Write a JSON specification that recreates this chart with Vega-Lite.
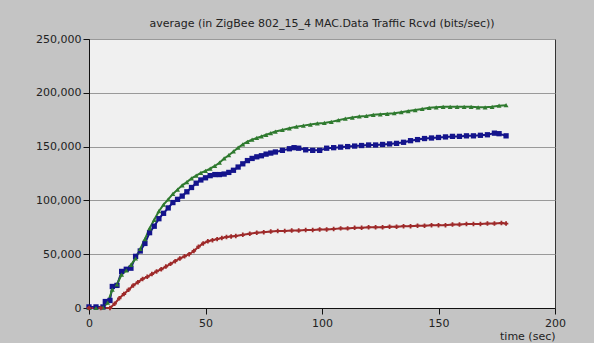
{
  "$schema": "https://vega.github.io/schema/vega-lite/v6.json",
  "autosize": "none",
  "width": 466,
  "height": 269,
  "padding": {"left": 89, "top": 39, "right": 39, "bottom": 35},
  "background": "#c4c4c4",
  "title": {"text": "average (in ZigBee 802_15_4 MAC.Data Traffic Rcvd (bits/sec))", "anchor": "middle", "offset": 4, "fontSize": 11, "font": "DejaVu Sans", "fontWeight": "normal", "color": "#222222"},
  "config": {
    "view": {"fill": "#f0f0f0", "stroke": "#333333", "strokeWidth": 1},
    "axis": {"labelFont": "DejaVu Sans", "labelFontSize": 11, "labelColor": "#222222", "domainColor": "#111111", "tickColor": "#111111", "tickSize": 6, "titleFont": "DejaVu Sans", "titleFontWeight": "normal", "titleColor": "#222222"}
  },
  "datasets": {
    "d": [
      {"s":"B","t":0,"v":1000},{"s":"B","t":3,"v":1000},{"s":"B","t":6,"v":1000},{"s":"B","t":7,"v":6000},{"s":"B","t":9,"v":7000},{"s":"B","t":10,"v":20000},{"s":"B","t":12,"v":21000},{"s":"B","t":14,"v":34000},{"s":"B","t":16,"v":36000},{"s":"B","t":18,"v":37000},{"s":"B","t":20,"v":48000},{"s":"B","t":22,"v":53000},{"s":"B","t":24,"v":60000},{"s":"B","t":26,"v":70000},{"s":"B","t":28,"v":76000},{"s":"B","t":30,"v":83000},{"s":"B","t":32,"v":88000},{"s":"B","t":34,"v":93000},{"s":"B","t":36,"v":98000},{"s":"B","t":38,"v":101000},{"s":"B","t":40,"v":104000},{"s":"B","t":42,"v":108000},{"s":"B","t":44,"v":112000},{"s":"B","t":46,"v":116000},{"s":"B","t":48,"v":119000},{"s":"B","t":50,"v":121000},{"s":"B","t":52,"v":123000},{"s":"B","t":54,"v":124000},{"s":"B","t":56,"v":124000},{"s":"B","t":58,"v":124500},{"s":"B","t":60,"v":126000},{"s":"B","t":62,"v":128000},{"s":"B","t":64,"v":131000},{"s":"B","t":66,"v":134000},{"s":"B","t":68,"v":137000},{"s":"B","t":70,"v":139000},{"s":"B","t":72,"v":140500},{"s":"B","t":74,"v":141500},{"s":"B","t":76,"v":143000},{"s":"B","t":78,"v":144000},{"s":"B","t":80,"v":145000},{"s":"B","t":83,"v":146500},{"s":"B","t":86,"v":148000},{"s":"B","t":88,"v":149000},{"s":"B","t":90,"v":148500},{"s":"B","t":93,"v":147000},{"s":"B","t":96,"v":146500},{"s":"B","t":99,"v":146500},{"s":"B","t":102,"v":148500},{"s":"B","t":105,"v":149000},{"s":"B","t":108,"v":149500},{"s":"B","t":111,"v":150000},{"s":"B","t":114,"v":150500},{"s":"B","t":117,"v":151000},{"s":"B","t":120,"v":151500},{"s":"B","t":123,"v":151500},{"s":"B","t":126,"v":152000},{"s":"B","t":129,"v":152500},{"s":"B","t":132,"v":153000},{"s":"B","t":135,"v":154000},{"s":"B","t":138,"v":155500},{"s":"B","t":141,"v":156500},{"s":"B","t":144,"v":157500},{"s":"B","t":147,"v":158000},{"s":"B","t":150,"v":158500},{"s":"B","t":153,"v":159000},{"s":"B","t":156,"v":159500},{"s":"B","t":159,"v":159500},{"s":"B","t":162,"v":160000},{"s":"B","t":165,"v":160000},{"s":"B","t":168,"v":160500},{"s":"B","t":171,"v":161000},{"s":"B","t":174,"v":162500},{"s":"B","t":176,"v":162000},{"s":"B","t":179,"v":160000},
      {"s":"G","t":0,"v":0},{"s":"G","t":3,"v":0},{"s":"G","t":6,"v":500},{"s":"G","t":8,"v":5000},{"s":"G","t":10,"v":17000},{"s":"G","t":12,"v":22000},{"s":"G","t":14,"v":31000},{"s":"G","t":16,"v":35000},{"s":"G","t":18,"v":40000},{"s":"G","t":20,"v":46000},{"s":"G","t":22,"v":55000},{"s":"G","t":24,"v":64000},{"s":"G","t":26,"v":74000},{"s":"G","t":28,"v":82000},{"s":"G","t":30,"v":90000},{"s":"G","t":32,"v":96000},{"s":"G","t":34,"v":101000},{"s":"G","t":36,"v":106000},{"s":"G","t":38,"v":110000},{"s":"G","t":40,"v":114000},{"s":"G","t":42,"v":117000},{"s":"G","t":44,"v":120500},{"s":"G","t":46,"v":123000},{"s":"G","t":48,"v":125500},{"s":"G","t":50,"v":127500},{"s":"G","t":52,"v":129500},{"s":"G","t":54,"v":132000},{"s":"G","t":56,"v":135000},{"s":"G","t":58,"v":139000},{"s":"G","t":60,"v":142000},{"s":"G","t":62,"v":145500},{"s":"G","t":64,"v":149000},{"s":"G","t":66,"v":152000},{"s":"G","t":68,"v":154500},{"s":"G","t":70,"v":156500},{"s":"G","t":72,"v":158000},{"s":"G","t":74,"v":159500},{"s":"G","t":76,"v":161000},{"s":"G","t":78,"v":162500},{"s":"G","t":80,"v":164000},{"s":"G","t":83,"v":165500},{"s":"G","t":86,"v":167000},{"s":"G","t":89,"v":168500},{"s":"G","t":92,"v":169500},{"s":"G","t":95,"v":170500},{"s":"G","t":98,"v":171500},{"s":"G","t":101,"v":172000},{"s":"G","t":104,"v":173000},{"s":"G","t":107,"v":174500},{"s":"G","t":110,"v":176000},{"s":"G","t":113,"v":177000},{"s":"G","t":116,"v":178000},{"s":"G","t":119,"v":178500},{"s":"G","t":122,"v":179500},{"s":"G","t":125,"v":180000},{"s":"G","t":128,"v":180500},{"s":"G","t":131,"v":181000},{"s":"G","t":134,"v":182000},{"s":"G","t":137,"v":183000},{"s":"G","t":140,"v":184000},{"s":"G","t":143,"v":185000},{"s":"G","t":146,"v":186000},{"s":"G","t":149,"v":186500},{"s":"G","t":152,"v":187000},{"s":"G","t":155,"v":187000},{"s":"G","t":158,"v":187000},{"s":"G","t":161,"v":187000},{"s":"G","t":164,"v":187000},{"s":"G","t":167,"v":186500},{"s":"G","t":170,"v":186500},{"s":"G","t":173,"v":187000},{"s":"G","t":176,"v":188000},{"s":"G","t":179,"v":188500},
      {"s":"R","t":0,"v":0},{"s":"R","t":5,"v":0},{"s":"R","t":9,"v":0},{"s":"R","t":11,"v":4000},{"s":"R","t":13,"v":9000},{"s":"R","t":15,"v":13000},{"s":"R","t":17,"v":17000},{"s":"R","t":19,"v":21000},{"s":"R","t":21,"v":24000},{"s":"R","t":23,"v":27000},{"s":"R","t":25,"v":29000},{"s":"R","t":27,"v":31500},{"s":"R","t":29,"v":34000},{"s":"R","t":31,"v":36000},{"s":"R","t":33,"v":38500},{"s":"R","t":35,"v":41000},{"s":"R","t":37,"v":43500},{"s":"R","t":39,"v":46000},{"s":"R","t":41,"v":48000},{"s":"R","t":43,"v":50000},{"s":"R","t":45,"v":53000},{"s":"R","t":47,"v":57000},{"s":"R","t":49,"v":60000},{"s":"R","t":51,"v":62000},{"s":"R","t":53,"v":63000},{"s":"R","t":55,"v":64000},{"s":"R","t":57,"v":65000},{"s":"R","t":59,"v":66000},{"s":"R","t":61,"v":66500},{"s":"R","t":63,"v":67000},{"s":"R","t":66,"v":68000},{"s":"R","t":69,"v":69000},{"s":"R","t":72,"v":70000},{"s":"R","t":75,"v":70500},{"s":"R","t":78,"v":71000},{"s":"R","t":81,"v":71500},{"s":"R","t":84,"v":71500},{"s":"R","t":87,"v":72000},{"s":"R","t":90,"v":72000},{"s":"R","t":93,"v":72500},{"s":"R","t":96,"v":72500},{"s":"R","t":99,"v":73000},{"s":"R","t":102,"v":73000},{"s":"R","t":105,"v":73500},{"s":"R","t":108,"v":74000},{"s":"R","t":111,"v":74000},{"s":"R","t":114,"v":74500},{"s":"R","t":117,"v":74500},{"s":"R","t":120,"v":75000},{"s":"R","t":123,"v":75000},{"s":"R","t":126,"v":75000},{"s":"R","t":129,"v":75500},{"s":"R","t":132,"v":75500},{"s":"R","t":135,"v":76000},{"s":"R","t":138,"v":76000},{"s":"R","t":141,"v":76500},{"s":"R","t":144,"v":76500},{"s":"R","t":147,"v":77000},{"s":"R","t":150,"v":77000},{"s":"R","t":153,"v":77000},{"s":"R","t":156,"v":77500},{"s":"R","t":159,"v":77500},{"s":"R","t":162,"v":78000},{"s":"R","t":165,"v":78000},{"s":"R","t":168,"v":78000},{"s":"R","t":171,"v":78500},{"s":"R","t":174,"v":78500},{"s":"R","t":177,"v":79000},{"s":"R","t":179,"v":78500}
    ]
  },
  "data": {"name": "d"},
  "encoding": {
    "x": {"field": "t", "type": "quantitative", "scale": {"domain": [0, 200], "nice": false, "zero": false},
          "axis": {"values": [0, 50, 100, 150, 200], "grid": false, "title": "time (sec)", "titleAnchor": "end", "titleFontSize": 11, "titlePadding": 2, "labelPadding": 3, "labelFlush": false}},
    "y": {"field": "v", "type": "quantitative", "scale": {"domain": [0, 250000], "nice": false},
          "axis": {"values": [0, 50000, 100000, 150000, 200000, 250000], "format": ",d", "title": null, "grid": true, "gridColor": "#999999", "gridWidth": 1.2, "labelPadding": 2, "labelFontSize": 11}},
    "color": {"field": "s", "type": "nominal", "legend": null, "scale": {"domain": ["B", "G", "R"], "range": ["#14148c", "#2f7a2f", "#9e2a2a"]}}
  },
  "layer": [
    {"mark": {"type": "line", "strokeWidth": 2}},
    {"mark": {"type": "point", "filled": true, "opacity": 1},
     "encoding": {
       "shape": {"field": "s", "type": "nominal", "legend": null, "scale": {"domain": ["B", "G", "R"], "range": ["square", "triangle-up", "cross"]}},
       "size": {"field": "s", "type": "nominal", "legend": null, "scale": {"domain": ["B", "G", "R"], "range": [28, 20, 14]}}
     }}
  ]
}
